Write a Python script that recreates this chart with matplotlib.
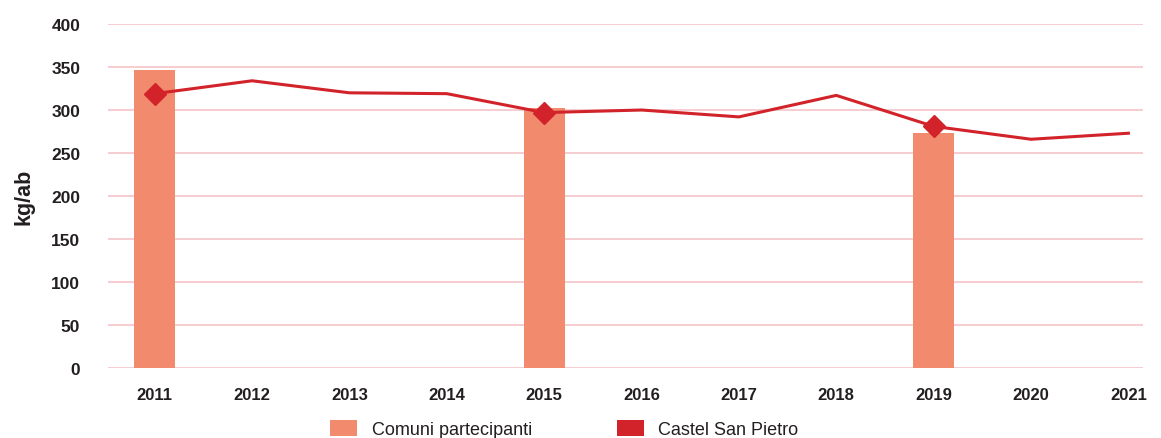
import matplotlib
matplotlib.use("Agg")
from matplotlib import pyplot as plt
from matplotlib.patches import Patch
import numpy as np

YEARS = ["2011", "2012", "2013", "2014", "2015", "2016", "2017", "2018", "2019", "2020", "2021"]
CASTEL = [319, 334, 320, 319, 297, 300, 292, 317, 281, 266, 273]
BAR_YEARS = ["2011", "2015", "2019"]
COMUNI = [346, 302, 273]
MARKER_YEARS = ["2011", "2015", "2019"]

BAR_COLOR = "#F28A6E"
LINE_COLOR = "#D2232A"
GRID_COLOR = "#F5C3C7"
TEXT_COLOR = "#231F20"

plt.rcParams["font.family"] = ["Liberation Sans", "DejaVu Sans"]

fig = plt.figure(figsize=(11.61, 4.39), dpi=100)
ax = fig.add_axes([0.093, 0.1595, 0.8915, 0.7835])

x = np.arange(len(YEARS))
bar_x = [YEARS.index(y) for y in BAR_YEARS]
ax.bar(bar_x, COMUNI, width=0.42, color=BAR_COLOR, zorder=2)
ax.plot(x, CASTEL, color=LINE_COLOR, linewidth=2.2, zorder=3)
mk_x = [YEARS.index(y) for y in MARKER_YEARS]
ax.plot(mk_x, [CASTEL[i] for i in mk_x], linestyle="none", marker="D",
        markersize=11, color=LINE_COLOR, zorder=4)

ax.set_xlim(-0.48, 10.15)
ax.set_ylim(0, 400)
ax.set_yticks(range(0, 401, 50))
ax.set_xticks(x)
ax.set_xticklabels(YEARS)
ax.yaxis.grid(True, color=GRID_COLOR, linewidth=1.2, zorder=0)
ax.set_axisbelow(True)
for s in ax.spines.values():
    s.set_visible(False)
ax.tick_params(length=0, labelsize=12, colors=TEXT_COLOR)
ax.tick_params(axis="y", pad=20, labelsize=12.5)
ax.tick_params(axis="x", pad=14)
for lab in ax.get_xticklabels() + ax.get_yticklabels():
    lab.set_fontweight("bold")
ax.set_ylabel("kg/ab", fontsize=15.5, fontweight="bold", color=TEXT_COLOR, labelpad=12)

handles = [Patch(facecolor=BAR_COLOR, edgecolor="none"),
           Patch(facecolor=LINE_COLOR, edgecolor="none")]
fig.legend(handles, ["Comuni partecipanti", "Castel San Pietro"],
           loc="center", bbox_to_anchor=(0.486, 0.02), ncol=2, frameon=False,
           fontsize=13, handlelength=1.5, handleheight=0.95, handletextpad=0.8,
           columnspacing=4.7, labelcolor=TEXT_COLOR)

fig.savefig("out.png", dpi=100)
